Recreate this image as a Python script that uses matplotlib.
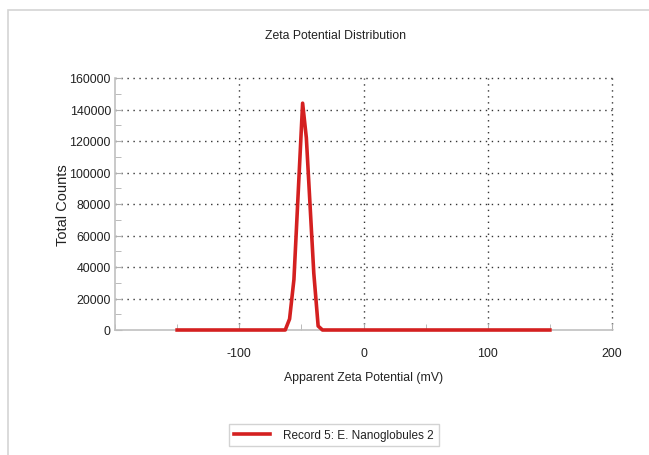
import matplotlib.pyplot as plt
from matplotlib.patches import Rectangle
from matplotlib.ticker import MultipleLocator

# zeta potential distribution
zeta_mv = [-150, -63, -59.5, -56, -49, -46, -40, -36.5, -33, 150]
counts = [0, 0, 7000, 32000, 144000, 122000, 36000, 2500, 0, 0]
x_ticks = [-100, 0, 100, 200]
y_ticks = [0, 20000, 40000, 60000, 80000, 100000, 120000, 140000, 160000]

plt.rcParams['font.family'] = ['Liberation Sans', 'DejaVu Sans']
plt.rcParams['axes.unicode_minus'] = False

fig = plt.figure(figsize=(6.49, 4.56), dpi=100)
ax = fig.add_axes([115 / 649, 1 - 331 / 456, 497 / 649, 252 / 456])

# light frame round the figure (only top and left visible)
fig.patches.append(Rectangle((8 / 649, -0.1), 1.2, 1 - 11 / 456 + 0.1,
                             transform=fig.transFigure, fill=False,
                             edgecolor='#d4d4d4', linewidth=1.2))

ax.plot(zeta_mv, counts, color='#d42020', linewidth=2.6,
        label='Record 5: E. Nanoglobules 2', zorder=3, clip_on=False)

ax.set_xlim(-200, 200)
ax.set_ylim(0, 160000)
ax.set_xticks(x_ticks)
ax.set_yticks(y_ticks)
ax.xaxis.set_minor_locator(MultipleLocator(50))
ax.yaxis.set_minor_locator(MultipleLocator(10000))
ax.tick_params(axis='both', which='both', direction='in', color='#b0b0b0',
               labelsize=8.9, labelcolor='#222222')
ax.tick_params(which='major', length=5)
ax.tick_params(which='minor', length=4)
ax.tick_params(axis='y', pad=3)
ax.tick_params(axis='x', pad=12)

ax.grid(True, which='major', linestyle=(0, (1, 3.3)), color='#333333', linewidth=1.0)
for gl in ax.xaxis.get_gridlines() + ax.yaxis.get_gridlines():
    gl.set_clip_on(False)
# no dotted line over the solid bottom axis
ax.yaxis.get_gridlines()[0].set_visible(False)
for side in ['top', 'right']:
    ax.spines[side].set_visible(False)
for side in ['left', 'bottom']:
    ax.spines[side].set_color('#c0c0c0')
    ax.spines[side].set_linewidth(1.2)

ax.set_xlabel('Apparent Zeta Potential (mV)', fontsize=8.8, labelpad=9, color='#222222')
ax.set_ylabel('Total Counts', fontsize=10.5, color='#222222')
ax.yaxis.set_label_coords(-45 / 497, 0.5)
fig.text(335 / 649, 1 - 36 / 456, 'Zeta Potential Distribution', ha='center',
         va='center', fontsize=8.8, color='#222222')

leg = fig.legend(loc='center', bbox_to_anchor=(334 / 649, 1 - 436 / 456), fontsize=8.5,
                 frameon=True, fancybox=False, edgecolor='#c8c8c8', handlelength=3.1,
                 borderpad=0.45, handletextpad=1.1, borderaxespad=0)
for t in leg.get_texts():
    t.set_color('#222222')

plt.savefig('out.png', dpi=100)
